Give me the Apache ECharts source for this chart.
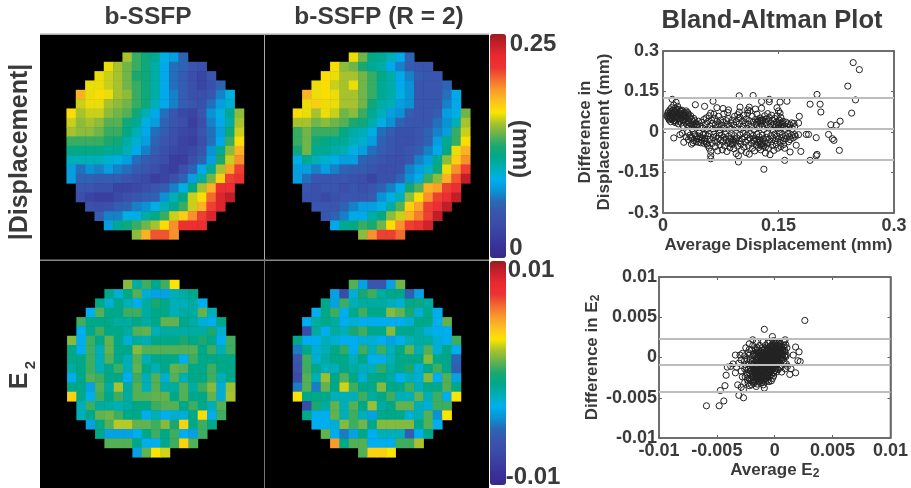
<!DOCTYPE html>
<html><head><meta charset="utf-8">
<style>html,body{margin:0;padding:0;background:#fff}#c{width:911px;height:488px;filter:blur(0.7px)}</style>
<script src="https://cdn.jsdelivr.net/npm/echarts@6/dist/echarts.min.js"></script>
</head><body><div id="c"></div>
<script>
// |Displacement| maps, in units of 0.01 mm; each row is centred on the disc
const dispFull = [
[15,13,12,11,9,8,6],
[16,15,14,13,12,10.5,8.5,6.5,6,5,4.5],
[16,15.5,15,14,12.5,12,10.5,8.5,6.5,5.5,4,3,5],
[16,16,15.5,15,14,13,12,10.5,8.5,6.5,5.5,4.5,3,4.5,6],
[18,16,16.5,16,15,14.5,13,12,10.5,8.5,7,5.5,4.5,4,5,7,9],
[15.5,16,16,15,14.5,14,13,12,10,8.5,7,5.5,5,4.5,6.5,8,9.5],
[16.5,15,15.5,15.5,14.5,14,13.5,12,10,8.5,6.5,5,3.5,3,5,7.5,9,11,14.5],
[15.5,14.5,15,14.5,13.5,13.5,12,11,9,8,6,5,4,2.5,4,7,8.5,10.5,15],
[15,14.5,14.5,14,13,13,11.5,10,8.5,6.5,5.5,4.5,3.5,3,5,6.5,8,12,15.5],
[13,13,13,13,12.5,12,10.5,9.5,8,6,5,4,3,2.5,4,6.5,8.5,13,16.5],
[11.5,11.5,11.5,11.5,11,11,10,8.5,7,5.5,4.5,3.5,3,3.5,5,7.5,11,14.5,18],
[10,10,10,10,9.5,9,8,6.5,5.5,5,4,2.5,2.5,4,6,8,12.5,15.5,19],
[8,6.5,7.5,7,8,7,6.5,5.5,5,4,3,2.5,4,6,8.5,11,15,18.5,21],
[8,6,6,5.5,5.5,5.5,5,4,3.5,2.5,3,4.5,6,8,10.5,14,17,21,21.5],
[5,5,4.5,4.5,3,3,3.5,4,5,5.5,7,9,11.5,15,18,22,22],
[4,3,2.5,2.5,3.5,4.5,5,5.5,6,7.5,10,11.5,15.5,16.5,20,23,24],
[4.5,4,4.5,5.5,6,7,7.5,9,10,11,13,15.5,18,21,23],
[5.5,7,7,9,9,10.5,11.5,13,15.5,17,19,21,23],
[8,11,12,13,14,15,16.5,19,21.5,22,22],
[14.5,18,20.5,20.5,19]];
const dispHalf = [
[16,14,11.5,11,10,8.5,6],
[16.5,14.5,14,12.5,11,10.5,8.5,7,5.5,5,5],
[16.5,16,15,15,14,13,11.5,10.5,8.5,7,5.5,5,5],
[16,16.5,15.5,15,16,14,13,11,10.5,8.5,7.5,5,5,5,6],
[18,16,16.5,16,15,15,14,13,11,10.5,9,7.5,5,5,5,6.5,8.5],
[16,17,16,16,15,15,14,12,10.5,10,8,7.5,5,5,5,7,8.5],
[16.5,16,15,16,15.5,14,14.5,13,11,10,8,7.5,5.5,5,5,5.5,8,9,14],
[15,15,14,14.5,14,13.5,12.5,12,10.5,9,7.5,6,5,5,5,6.5,7.5,10,15],
[13,14,13,13,13,11.5,10.5,10,9,6.5,5.5,4.5,4.5,5,6,7,8,13,15.5],
[13,14,12,11.5,11,11,10,9.5,8,6,5,4.5,4,5,6,8,11,13,16.5],
[12,14,11,11,10.5,10,9,8,6.5,5.5,5,4.5,5,5.5,7,8.5,11.5,16,18],
[9,11,10,9.5,9,8,8,6,5.5,5,4.5,4,5,7,8,11,14.5,17,19],
[8,8,7,8,7,6,5.5,5.5,5,4,4,4.5,7,8,9.5,12,16,19,21],
[8,6.5,5,5,5,5,4.5,4,3,4.5,4.5,6,7.5,9,13,14.5,18,20.5,24],
[5,4.5,5,5,4,5,4,5,6,7,8.5,12,13.5,18,18.5,21,22],
[4.5,4.5,3.5,4.5,5,5,5,5.5,7.5,9,10,14.5,16.5,19,21,22,24],
[5,5,5,6,7,8,8,9,10.5,13.5,17,18.5,21,22,24],
[5,6,7,8.5,8.5,10.5,11.5,14.5,15.5,18,19.5,21,24],
[8.5,11,11.5,13,12.5,14,16.5,19,21,21.5,23.5],
[14.5,19,21,21,20]];
// E2 maps, in units of 0.001
const e2Full = [
[1.5,-1.5,0.5,-1,0.5,3],
[-1,-2.5,-1,0.8,-2.5,-3.5,-3.5,-2,-1.5,-1],
[-1,-2.5,-1,-2,-3,-1.5,0,-1,-2,-2,-1.5,-3],
[-3,0.8,-1,-1,0.5,0.5,-1.5,-1,-1,-2,-1.5,-1.5,1,-2],
[0.5,-1,-1,-1,-1.5,-1.5,-1,-1.5,-1,1,1,-1,-1.5,-2.5,-3,-1],
[-3,-1,0.5,-1,-1,-1.5,0.8,1,-2,-1.5,-1.5,-1.5,-1.5,-1.5,0,-2.5],
[1.5,-3,0.5,-1,1,-1,-2.5,-1.5,-2,-1,-1,-1,0,-1,0,-1,-3,0.5],
[-1,-3,0.5,-2,1,-1,-1,1.5,0.8,0.8,0.8,0.8,0.8,0.8,-1,0.5,-2,0.5],
[-1,-1,0.5,-2,0.8,-1,-2,0.8,-2,-1,-1,-1,-3,0.5,-1,-1,-1,-1],
[-1.5,-1,0.5,-2,-1,0.5,-2,1,-1,-2,-1,1,0.8,-1,-1,0.5,-1,-1],
[-3,-1,0.8,0.5,-1,-1,-3,0.5,-2,0.8,-2.5,0.8,-2,-1,-1,0.5,-2,-1],
[-1,-1,-3.5,0.8,-1.5,2,-1.5,0.8,-2,0.8,-1.5,-1.5,0.8,-1.5,0.5,1.5,-2.5,1.8],
[3.5,-1,-3,0.5,-1,0.5,-1.5,0.8,0.8,1,1,-1,0.8,-1,-1,1,-2.5,2],
[-2,0.5,-1.5,-1.5,-2,-1.5,-1,-1,0.5,0.8,0.8,-1,0.5,-1,-2,0.8],
[-2,-1,1,1.2,0.5,-1,-1,-3,-2,-3,-2.5,-2.5,-1,3.2,-3,0.5],
[-3.5,-1,0.8,2.2,2.2,1,1,0.5,1.5,0,3.5,-1,0.5,-1],
[-1,-3.5,-3.5,-3.5,-3,-1,0.5,-1,0.5,-3,-3.5,0.5],
[0.8,0.8,0.8,-1,-3,-3,-1,0.5,3.5,0.8],
[-3.5,1,3,2.5]];
const e2Half = [
[0.8,-3.5,-6,-6,-3.5,1.2],
[-3.5,-7,-2.5,-0.2,0.5,-1.5,-1,-1,-5.5,-3.5],
[-1,-3.5,0.5,-2,-1.5,-1.5,-1.5,-2,-2.5,-1,-0.5,-1.5],
[-3,-1,0.5,-3,-1,0.5,-1,-1,1.5,1,0,-2.5,-1,-3],
[-3,-1.5,-1,-1.5,-3,-2.5,-3,-3,-3,-3,-3,-2.5,-1,-1,-3,1],
[-7,-1.5,-3,-1.5,-2,0,0.5,-1,-1,1.5,-1,-1,-1.5,-2.5,-3,-3],
[-1,-3,-3,-2,-2.5,-3,-3,-2.5,-2.5,-3,-3.5,-3,-2,-1.5,-1.5,-2.5,-3,0.5],
[-4.5,-1,-2.5,-2,-1,0.3,-3,0.5,-2,0.5,-2,-1,1,-2,0.8,-2.5,-1,-3],
[-6,0.5,-2.5,-1.5,-1,-1,-2,-1,-3,-3,-2,-1,-1,-1,1.5,-1,-1,-5],
[-6.5,0.5,-1,-2,-2,-1,-1.5,-2,-2,0.3,-1.5,-1,0,-2.5,-1,0.5,-1,-5.5],
[-7,0.8,-2,1.8,-1,0.8,-1,-2.5,-1,-1,-1.5,-3,-2,-2.5,1.5,-3,0.8,-3.5],
[-4.5,0.8,-4.5,1,-1,2.5,0.5,-1,-1,1.5,-1,-1,0.5,-2,-1,-1,0.8,-1],
[3,-1,-1,-1,-2,-2,-2,0.5,-1.5,-1,0.5,-2,-2,1,-2,0.5,-3,3],
[-7,0,-1.5,1,-2,0.8,-1,1.8,-1.5,-1,1,1,-2,-2.5,0.5,0.5],
[-1,-3,-3,1,-2,0.5,-2,-3.5,-1,-1,-1,-2.5,-2,0.8,-4,3],
[-3,-3,-2.5,1.5,0.5,1.2,-1,1.5,1.5,1.5,1.5,-1,0.8,-3],
[1,-3,-4.5,-3.5,-1,-3,-2,-2,-2,-5.5,-3,-1],
[5,-1,0.8,0.8,-3,-3,-3,0.5,0.5,2],
[0.8,3.5,3.5,3]];
// Bland-Altman points, [average, difference], both in 0.001 units
const baDisp = [
[247,257],[255,231],[240,170],[250,119],[245,70],[230,40],[225,25],[218,27],[215,-9],[220,-25],[222,-31],[229,-68],
[200,139],[204,103],[191,103],[205,74],[199,-21],[200,-83],[199,-88],[191,-105],[189,-9],[186,-9],[176,-10],[177,58],[176,33],
[179,-72],[173,-49],[165,-74],[158,-105],[131,-138],[117,135],[99,134],[161,114],[152,111],[138,121],[138,112],[128,113],[65,114],
[54,95],[42,101],[12,121],[98,-111],[62,-99],[70,90],[78,87],[85,82],[100,92],[99,74],[112,92],[110,82],[120,85],[128,88],[148,90],[150,78],[152,70],
[5,60],[6,68],[7,52],[7,75],[8,62],[8,45],[9,82],[9,70],[10,55],[10,38],[11,64],[11,90],[12,48],[12,72],[13,58],[13,80],[14,100],[14,66],[14,42],
[15,52],[15,74],[16,60],[16,88],[16,35],[17,110],[17,68],[18,46],[18,78],[19,56],[19,95],[20,64],[20,30],[21,72],[21,84],[22,50],[22,40],[23,62],
[24,76],[24,33],[25,80],[25,54],[26,68],[26,24],[27,44],[28,72],[28,60],[29,36],[30,78],[30,50],[31,28],[32,62],[32,72],[33,40],[34,20],[35,52],
[36,30],[37,46],[38,12],[39,38],[40,24],[41,42],[42,32],[44,18],[45,28],[46,40],[48,22],[50,36],[52,14],[53,46],[55,28],[56,52],[57,10],[58,38],
[60,60],[61,22],[62,70],[63,44],[64,32],[65,12],[66,66],[67,50],[68,26],[70,40],[71,18],[72,58],[73,30],[74,8],[75,44],[76,24],[78,36],[79,68],
[80,14],[82,42],[83,28],[84,72],[85,50],[86,20],[88,34],[89,10],[90,44],[92,26],[93,58],[95,38],[96,16],[97,64],[98,50],[99,30],[100,54],[101,10],
[103,40],[104,22],[105,62],[107,34],[108,48],[109,14],[110,70],[111,28],[112,42],[113,78],[115,20],[116,58],[117,36],[118,8],[120,46],[121,28],[122,66],
[123,40],[125,16],[126,52],[127,32],[128,44],[129,22],[130,42],[131,10],[132,60],[133,36],[134,48],[135,26],[136,68],[137,40],[138,54],[139,18],[140,30],
[141,62],[142,44],[143,8],[144,28],[145,50],[146,20],[147,36],[148,60],[149,12],[150,26],[151,44],[152,32],[153,54],[154,16],[155,28],[156,40],[158,22],
[159,10],[160,36],[162,30],[163,16],[165,26],[167,34],[168,12],[170,32],[171,20],
[14,-22],[22,-10],[25,-5],[27,-38],[30,-18],[32,-2],[33,-28],[35,-12],[37,-45],[38,-22],[40,-32],[41,-8],[42,-14],[44,-26],[46,-38],[47,-4],[48,-18],
[50,-30],[52,-10],[53,-42],[54,-24],[56,-36],[58,-15],[58,-50],[60,-6],[60,-60],[61,-28],[62,-72],[62,-88],[64,-42],[65,-20],[66,-8],[67,-32],[68,-54],
[69,-16],[70,-38],[71,-70],[72,-24],[73,-4],[74,-48],[75,-30],[76,-12],[77,-66],[78,-36],[79,-20],[80,-52],[81,-8],[82,-28],[83,-72],[84,-42],[85,-16],
[86,-34],[87,-58],[88,-24],[89,-6],[90,-46],[91,-30],[92,-62],[93,-14],[94,-38],[95,-80],[96,-22],[97,-52],[98,-88],[99,-34],[100,-10],[101,-44],[102,-68],
[103,-26],[104,-4],[105,-56],[106,-18],[107,-38],[108,-76],[109,-12],[110,-30],[111,-50],[112,-82],[113,-22],[114,-6],[115,-42],[116,-60],[117,-14],
[118,-34],[119,-70],[120,-24],[121,-48],[122,-8],[123,-38],[124,-58],[125,-18],[126,-30],[127,-66],[128,-44],[129,-12],[130,-26],[131,-52],[132,-36],
[133,-78],[134,-20],[135,-6],[136,-42],[137,-60],[138,-28],[139,-84],[140,-14],[141,-36],[142,-50],[143,-22],[144,-68],[145,-8],[146,-32],[147,-46],
[148,-16],[149,-60],[150,-26],[151,-4],[152,-38],[153,-54],[154,-20],[155,-10],[156,-32],[157,-46],[158,-60],[159,-14],[160,-24],[162,-6],[163,-36],
[164,-18],[165,-28],[167,-12],[169,-22],[171,-10],[172,-16],
[6,58],[9,50],[11,76],[13,68],[15,40],[17,56],[18,84],[20,50],[22,68],[23,78],[25,44],[27,60],[29,70],[31,54],[33,66],[34,34],[36,60],[38,28],[40,50],[43,26],
[36,-20],[39,-40],[43,-36],[46,-24],[49,-40],[51,-22],[54,-34],[57,-44],[45,-14],[55,-8],[125,42],[127,38],[129,46],[122,36],[118,-30],[122,-28],[126,-36],[130,-42],
[128,-52],[126,-46],[133,-56],[90,-38],[94,-26],[88,-44],[150,24],[153,20],[149,34],[155,34]];
const baE2 = [
[2.6,4.6],[-0.9,3.5],[-5.9,-6.0],[-4.8,-6.0],[-4.4,-5.4],[-4.7,-4.1],[-4.3,-3.5],[-4.2,-2.2],[-4.1,-1.2],[-3.4,0.3],[-3.0,0.3],[-3.4,-1.9],[-3.2,-3.4],
[-3.1,-4.7],[-2.7,-5.0],[-2.7,-4.0],[-0.2,2.6],[1.8,1.3],[2.1,0.7],[1.6,0.3],[2.2,-0.5],[2.0,-0.4],[1.8,-1.9],[1.3,-2.1],[1.4,-1.4],[0.9,2.2],[-1.9,2.2],
[-3.8,-1.1],[-3.6,-0.8],[-3.3,-1.2],[-3.1,-0.7],[-2.9,-0.3],[-2.9,-1.7],[-2.8,-2.4],[-2.8,0.5],[-2.6,-3.1],[-2.9,-3.7],[-2.5,-0.9],[-2.5,1.2],[-2.4,-1.9],
[-2.3,0.6],[-2.3,-3.2],[-2.2,1.7],[-2.2,-2.6],[-2.1,-0.2],[-2.1,-1.2],[-2.0,0.9],[-2.0,-3.4],[-1.9,1.5],[-1.9,-2.0],[-1.8,0.2],[-1.8,-0.8],[-1.8,-2.8],
[-1.7,1.1],[-1.7,-0.3],[-1.7,-1.5],[-1.7,-3.0],[-1.6,0.6],[-1.6,1.9],[-1.6,-1.0],[-1.6,-2.3],[-1.5,0.0],[-1.5,-0.6],[-1.5,-1.8],[-1.5,-3.3],[-1.4,0.9],
[-1.4,-0.2],[-1.4,-1.2],[-1.4,-2.6],[-1.3,0.4],[-1.3,1.5],[-1.3,-0.8],[-1.3,-1.6],[-1.3,-2.1],[-1.3,-3.1],[-1.2,0.1],[-1.2,0.7],[-1.2,-0.4],[-1.2,-1.1],
[-1.2,-1.9],[-1.2,-2.8],[-1.1,1.2],[-1.1,0.3],[-1.1,-0.1],[-1.1,-0.7],[-1.1,-1.4],[-1.1,-2.4],[-1.0,1.9],[-1.0,0.6],[-1.0,-0.3],[-1.0,-0.9],[-1.0,-1.7],
[-1.0,-2.2],[-1.0,-3.4],[-0.9,1.0],[-0.9,0.2],[-0.9,-0.5],[-0.9,-1.2],[-0.9,-2.0],[-0.9,-2.7],[-0.8,1.5],[-0.8,0.5],[-0.8,-0.1],[-0.8,-0.8],[-0.8,-1.5],
[-0.8,-2.3],[-0.8,-3.0],[-0.7,0.9],[-0.7,0.2],[-0.7,-0.4],[-0.7,-1.0],[-0.7,-1.8],[-0.7,-2.6],[-0.6,1.8],[-0.6,1.2],[-0.6,0.6],[-0.6,-0.2],[-0.6,-0.7],
[-0.6,-1.3],[-0.6,-2.1],[-0.5,1.0],[-0.5,0.4],[-0.5,-0.1],[-0.5,-0.6],[-0.5,-1.1],[-0.5,-1.6],[-0.5,-2.4],[-0.5,-3.0],[-0.4,2.0],[-0.4,1.4],[-0.4,0.7],
[-0.4,0.1],[-0.4,-0.4],[-0.4,-0.9],[-0.4,-1.8],[-0.3,1.1],[-0.3,0.5],[-0.3,0.0],[-0.3,-0.5],[-0.3,-1.2],[-0.3,-2.1],[-0.2,1.7],[-0.2,0.9],[-0.2,0.3],
[-0.2,-0.2],[-0.2,-0.8],[-0.2,-1.5],[-0.1,2.1],[-0.1,1.3],[-0.1,0.6],[-0.1,0.0],[-0.1,-0.6],[-0.1,-1.2],[-0.1,-1.9],[0.0,1.7],[0.0,1.0],[0.0,0.4],[0.0,-0.3],
[0.0,-1.0],[0.0,-1.6],[0.1,1.4],[0.1,0.7],[0.1,0.1],[0.1,-0.5],[0.1,-1.3],[0.2,1.9],[0.2,1.0],[0.2,0.3],[0.2,-0.2],[0.2,-0.9],[0.3,1.5],[0.3,0.6],[0.3,-0.1],
[0.3,-1.5],[0.4,1.2],[0.4,0.2],[0.4,-0.6],[0.5,1.7],[0.5,0.8],[0.5,-0.1],[0.5,-1.1],[0.6,1.3],[0.6,0.4],[0.6,-1.8],[0.7,0.9],[0.7,0.0],[0.8,2.0],[0.8,1.5],
[0.8,-0.5],[0.9,0.7],[0.9,-1.4],[1.0,0.3],[1.0,-0.8],[-1.6,-3.6],[-1.9,-3.0],[-0.6,-2.8],[-0.9,-3.8],[-2.2,-3.5],[-2.4,-2.2],[-2.6,-1.4],[-2.6,0.2],[-2.2,1.0],[-0.3,-2.9],
[-2.05,-1.6],[-1.95,-0.5],[-1.85,-1.3],[-1.85,-2.4],[-1.75,0.5],[-1.75,-1.9],[-1.65,-0.6],[-1.65,-2.7],[-1.55,0.3],[-1.55,-1.4],[-1.55,-2.0],[-1.45,-0.9],[-1.45,-2.4],[-1.45,0.6],
[-1.35,-0.5],[-1.35,-1.8],[-1.35,-2.9],[-1.25,0.3],[-1.25,-1.3],[-1.25,-2.4],[-1.15,-0.3],[-1.15,-0.9],[-1.15,-1.7],[-1.15,-2.1],[-1.05,0.9],[-1.05,0.1],[-1.05,-0.5],[-1.05,-1.2],
[-1.05,-2.6],[-0.95,0.4],[-0.95,-0.2],[-0.95,-0.7],[-0.95,-1.5],[-0.95,-2.4],[-0.85,1.2],[-0.85,0.0],[-0.85,-1.0],[-0.85,-1.8],[-0.75,0.7],[-0.75,0.0],[-0.75,-0.6],[-0.75,-1.2],
[-0.75,-2.1],[-0.65,1.0],[-0.65,0.3],[-0.65,-0.4],[-0.65,-1.5],[-0.65,-2.4],[-0.55,0.8],[-0.55,0.1],[-0.55,-0.9],[-0.55,-1.9],[-0.45,0.5],[-0.45,-0.3],[-0.45,-0.8],[-0.45,-1.4],
[-0.35,0.9],[-0.35,0.2],[-0.35,-0.7],[-0.35,-1.6],[-0.25,1.3],[-0.25,0.6],[-0.25,0.0],[-0.25,-1.0],[-0.15,0.8],[-0.15,0.2],[-0.15,-0.4],[-0.15,-1.4],[-0.05,1.1],[-0.05,0.4],[-0.05,-0.2],
[-0.05,-0.8],[0.05,0.9],[0.05,0.2],[0.05,-0.7],[0.15,1.2],[0.15,0.5],[0.15,-0.1],[0.25,0.8],[0.25,0.1],[0.25,-0.6],[0.35,1.0],[0.35,0.3],[0.45,0.6],[0.45,-0.3],[-1.7,-2.3],[-1.8,-1.6],
[-1.3,-2.6],[-0.8,-2.6],[-1.0,-2.9],[-1.5,-2.7],[-1.1,-3.1],[-0.4,-2.3],
[-2.6,-0.4],[-2.55,-2.4],[-2.45,-1.2],[-2.4,-0.2],[-2.35,-2.8],[-2.3,-1.5],[-2.25,-0.6],[-2.2,0.3],[-2.15,-2.0],[-2.1,-1.7],[-2.05,-2.9],[-2.0,-0.8],[-1.95,-2.4],[-1.9,-1.0],[-1.85,0.4],
[-1.8,-3.2],[-1.75,-1.1],[-1.7,-2.0],[-1.65,0.9],[-1.6,-1.7],[-1.55,-0.3],[-1.5,1.2],[0.65,1.0],[0.7,0.4],[0.75,1.3],[0.75,-0.2],[0.85,0.9],[0.85,0.2],[0.95,1.6],[0.95,0.1],[0.55,1.1],[0.45,1.4],[0.35,1.8],
[0.6,-0.3],[0.6,-1.0],[0.4,-1.3],[0.15,-1.8],[-0.1,-2.3],[-0.2,-2.6],[1.05,1.2],[1.1,-1.1],[-0.15,1.5],[-0.05,1.9],[0.1,1.8]];
// Tick labels and axis ranges
const dispTicks = [-0.3,-0.15,0,0.15,0.3];
const e2Ticks = [-0.01,-0.005,0,0.005,0.01];
// Bland-Altman reference lines (mean difference and limits of agreement)
const dispLimits = [0.126,0.013,-0.103];
const e2Limits = [0.00235,-0.0009,-0.0042];
const colorRamp = ['#352a87','#38319a','#3a3f9f','#3b4ca8','#3a55ad','#2b66b5','#0a93d4','#00aeef','#00aeb8','#00a88a','#1aa870','#62b24f','#a7c22f','#fbe400','#fdc020','#f99b2a','#f26a30','#ec3433','#e92a30','#c9202a','#9b1c22'];

const font = '"Liberation Sans",Arial,sans-serif', ink = '#3a3a3a';
const cells = (rows, ncol, k) => {
  const out = [];
  rows.forEach((r, y) => { const s = Math.floor((ncol - r.length) / 2);
    r.forEach((v, i) => out.push([s + i, y, v * k])); });
  return out;
};
const panels = [
  {rows: dispFull, n: 19, k: 0.01, left: 66.7, top: 52.7, w: 177.3, h: 186.7},
  {rows: dispHalf, n: 19, k: 0.01, left: 293, top: 52.7, w: 177.3, h: 186.7},
  {rows: e2Full, n: 18, k: 0.001, left: 67.3, top: 280, w: 168, h: 177.3},
  {rows: e2Half, n: 18, k: 0.001, left: 293, top: 280, w: 168, h: 177.3}
];
const grids = [], xAxes = [], yAxes = [], series = [];
const idx = n => Array.from({length: n}, (_, i) => i);
panels.forEach((p, i) => {
  grids.push({left: p.left, top: p.top, width: p.w, height: p.h});
  xAxes.push({type: 'category', gridIndex: i, data: idx(p.n), show: false});
  yAxes.push({type: 'category', gridIndex: i, data: idx(p.rows.length), inverse: true, show: false});
  series.push({type: 'heatmap', xAxisIndex: i, yAxisIndex: i, data: cells(p.rows, p.n, p.k), progressive: 0, silent: true});
});
const tickStyle = {color: ink, fontFamily: font, fontWeight: 'bold', fontSize: 18};
const frame = {lineStyle: {color: '#666', width: 1.5}};
const richName = {sub: {fontSize: 12, fontWeight: 'bold', fontFamily: font, color: ink, verticalAlign: 'bottom', padding: [7, 0, 0, 0]}};
function baPlot(xMin, pts, k, limits, range, step, xName, yName, box, gaps, yMargin) {
  const gi = grids.length;
  grids.push(Object.assign({show: true, backgroundColor: '#fff', borderColor: '#666', borderWidth: 1.5}, box));
  const base = {type: 'value', gridIndex: gi, splitLine: {show: false}, interval: step,
    axisLine: Object.assign({show: true, onZero: false}, frame), axisTick: {inside: true, length: 3, lineStyle: {color: '#666'}}};
  const xBase = Object.assign({}, base, {min: xMin, max: range[1]});
  const yBase = Object.assign({}, base, {min: range[0], max: range[1]});
  const nameStyle = {rich: richName, color: ink, fontFamily: font, fontWeight: 'bold', fontSize: 17, lineHeight: 19};
  xAxes.push(Object.assign({}, xBase, {position: 'bottom', name: xName, nameLocation: 'middle', nameGap: gaps[0], nameTextStyle: nameStyle,
    axisLabel: Object.assign({margin: 4}, tickStyle)}));
  yAxes.push(Object.assign({}, yBase, {position: 'left', name: yName, nameLocation: 'middle', nameGap: gaps[1], nameTextStyle: nameStyle,
    axisLabel: Object.assign({margin: yMargin}, tickStyle)}));
  const xi = xAxes.length - 1, yi = yAxes.length - 1;
  xAxes.push(Object.assign({}, xBase, {position: 'top', axisLabel: {show: false}}));
  yAxes.push(Object.assign({}, yBase, {position: 'right', axisLabel: {show: false}}));
  series.push({type: 'scatter', xAxisIndex: xi, yAxisIndex: yi, silent: true, symbol: 'circle', symbolSize: 6.2,
    itemStyle: {color: 'rgba(255,255,255,0)', borderColor: '#222', borderWidth: 1, opacity: 1},
    data: pts.map(p => [p[0] * k, p[1] * k]),
    markLine: {silent: true, symbol: 'none', precision: 6, label: {show: false}, animation: false, z: 6,
      lineStyle: {color: '#bdbdbd', width: 2, type: 'solid'}, data: limits.map(v => ({yAxis: v}))}});
}
baPlot(0, baDisp, 0.001, dispLimits, [dispTicks[0], dispTicks[4]], dispTicks[3], 'Average Displacement (mm)', 'Difference in\nDisplacement (mm)',
  {left: 663, top: 51, width: 231, height: 162}, [21, 48], 4);
baPlot(e2Ticks[0], baE2, 0.001, e2Limits, [e2Ticks[0], e2Ticks[4]], e2Ticks[3], 'Average E{sub|2}', 'Difference in E{sub|2}',
  {left: 659, top: 277, width: 234, height: 161}, [22, 54], 2);

const hText = (text, x, y, size, rotation) => ({type: 'text', x, y, z: 10, rotation: rotation || 0, style: {text, fill: ink, fontFamily: font, fontWeight: 'bold', fontSize: size, align: 'center', verticalAlign: 'middle'}});
const rect = (x, y, w, h, fill) => ({type: 'rect', shape: {x, y, width: w, height: h}, style: {fill}, z: -1, silent: true});
const Q = Math.PI / 2;
const graphic = [
  rect(40, 35, 449, 453, '#000'),
  rect(40, 33.5, 449, 1.5, '#aaa'), rect(264, 34, 1, 226, '#aaa'), rect(40, 259.5, 449, 1.5, '#888'), rect(264, 260, 1, 228, '#777'),
  hText('b-SSFP', 148, 17, 24.5), hText('b-SSFP (R = 2)', 379, 17, 24.5), hText('Bland-Altman Plot', 772, 21, 25.5),
  hText('|Displacement|', 20, 152, 25, Q), hText('E', 20, 381, 25, Q), hText('2', 31, 365, 15, Q),
  hText('(mm)', 520, 149, 24, -Q), hText('0.25', 533, 44, 24), hText('0', 516, 248, 24), hText('0.01', 531, 270, 24), hText('-0.01', 533, 477, 24)
];
const vm = (min, max, seriesIndex, top) => ({type: 'continuous', min, max, seriesIndex, left: 490, top, itemWidth: 16, itemHeight: 224, calculable: false, realtime: false, text: null, showLabel: false, padding: 0, inRange: {color: colorRamp}, textStyle: {fontSize: 0, color: 'rgba(0,0,0,0)'}, handleSize: 0, indicatorSize: 0, hoverLink: false});

const chart = echarts.init(document.getElementById('c'), null, {renderer: 'canvas'});
chart.setOption({animation: false, backgroundColor: '#fff', grid: grids, xAxis: xAxes, yAxis: yAxes, series,
  visualMap: [vm(0, 0.25, [0, 1], 34), vm(-0.01, 0.01, [2, 3], 261)], graphic: {elements: graphic}});
</script></body></html>
